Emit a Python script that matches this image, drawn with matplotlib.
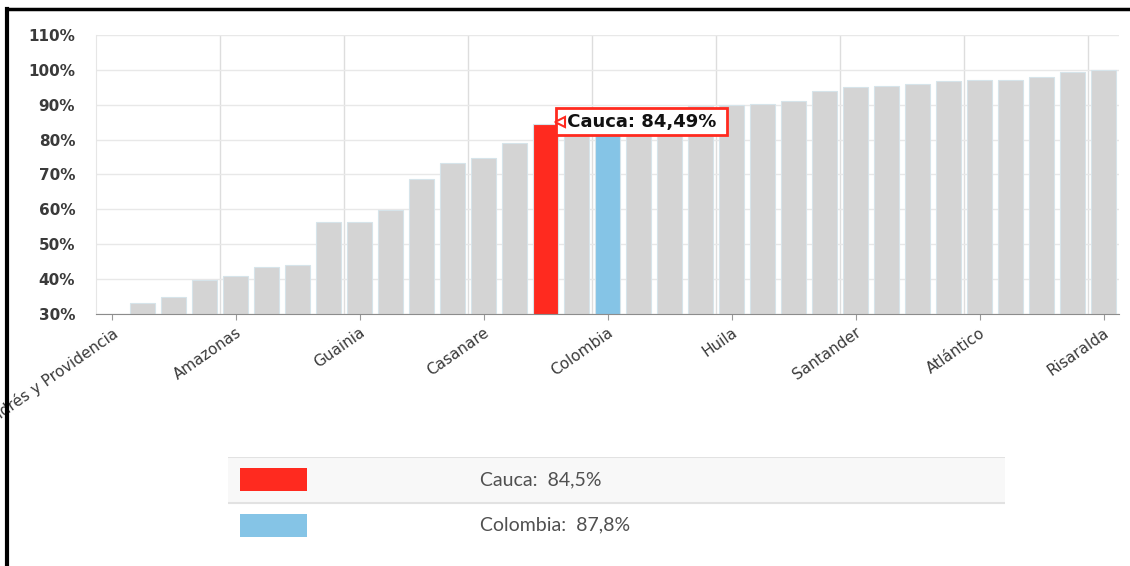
import numpy as np
import matplotlib.pyplot as plt
from matplotlib.patches import Rectangle
from matplotlib.lines import Line2D

# values per department (sorted)
values = [29.0, 33.2, 34.8, 39.7, 40.8, 43.4, 44.0, 56.5, 56.5, 59.8, 68.6,
          73.4, 74.7, 79.1, 84.49, 86.5, 87.8, 88.3, 89.2, 89.6, 89.8, 90.2,
          91.0, 93.8, 95.0, 95.3, 96.0, 96.9, 97.2, 97.2, 97.9, 99.4, 100.0]
tick_idx = [0, 4, 8, 12, 16, 20, 24, 28, 32]
tick_names = ["San Andrés y Providencia", "Amazonas", "Guainia", "Casanare",
              "Colombia", "Huila", "Santander", "Atlántico", "Risaralda"]
highlight_name = "Cauca"
highlight_idx = 14
country_name = "Colombia"
country_idx = 16
legend_names = ["Cauca", "Colombia"]
legend_values = [84.5, 87.8]
yticks = list(range(30, 111, 10))

RED = '#ff2a1f'
BLUE = '#85c4e6'
GRAY = '#d4d4d4'

W, H = 1130, 566
fig = plt.figure(figsize=(W / 100, H / 100), dpi=100)
ax = fig.add_axes([96 / W, 252 / H, 1023 / W, 279 / H])

colors = [GRAY] * len(values)
colors[highlight_idx] = RED
colors[country_idx] = BLUE
x = np.arange(len(values))
ax.bar(x, values, width=0.81, color=colors, edgecolor='#d6e4ea', linewidth=0.8, zorder=2)

ax.set_xlim(-0.5, len(values) - 0.5)
ax.set_ylim(30, 110)
ax.set_yticks(yticks)
ax.set_yticklabels([f"{v}%" for v in yticks], fontsize=11, fontweight='bold', color='#3a3a3a')
ax.tick_params(axis='y', length=0, pad=15)

ax.set_xticks(tick_idx)
ax.set_xticklabels(tick_names, rotation=35, ha='right', rotation_mode='anchor',
                   fontsize=11, color='#3a3a3a')
ax.set_xticks(np.arange(3.5, len(values) - 1, 4), minor=True)
ax.tick_params(axis='x', which='major', length=4, color='#999999', pad=4)
ax.tick_params(axis='x', which='minor', length=0)

ax.yaxis.grid(True, color='#e8e8e8', lw=1, zorder=0)
ax.xaxis.grid(True, which='minor', color='#dddddd', lw=1, zorder=0)
ax.set_axisbelow(True)
for s in ['top', 'right']:
    ax.spines[s].set_visible(False)
ax.spines['left'].set_color('#e6e6e6')
ax.spines['bottom'].set_color('#8c8c8c')

# tooltip
hv = values[highlight_idx]
label = f"{highlight_name}: {hv:.2f}%".replace('.', ',')
ax.text(highlight_idx + 0.5, hv + 0.6, " " + label + " ", ha='left', va='center',
        fontsize=13, fontweight='bold', color='#111111', zorder=6,
        bbox=dict(boxstyle='square,pad=0.25', facecolor='white', edgecolor=RED, lw=2))
ax.plot([highlight_idx + 0.47], [hv + 0.6], marker='<', markersize=7, markerfacecolor='white',
        markeredgecolor=RED, markeredgewidth=1.5, zorder=7, clip_on=False)

# legend table
lax = fig.add_axes([228 / W, 18 / H, 777 / W, 91 / H])
lax.set_xlim(0, 1)
lax.set_ylim(0, 1)
lax.axis('off')
lax.add_patch(Rectangle((0, 0.5), 1, 0.5, facecolor='#f8f8f8', edgecolor='none'))
lax.plot([0, 1], [1, 1], color='#e2e2e2', lw=1.5)
lax.plot([0, 1], [0.5, 0.5], color='#e2e2e2', lw=1.5)
for i, (nm, v, c) in enumerate(zip(legend_names, legend_values, [RED, BLUE])):
    yc = 0.75 - 0.5 * i
    lax.add_patch(Rectangle((0.0155, yc - 0.125), 0.086, 0.25, facecolor=c, edgecolor='none'))
    lax.text(0.324, yc, f"{nm}:  {v:.1f}%".replace('.', ','), ha='left', va='center',
             fontsize=14, family='Lato', fontweight='normal', color='#505050')

# screenshot border
fig.add_artist(Line2D([7 / W, 7 / W], [0, 1 - 9 / H], color='black', lw=3))
fig.add_artist(Line2D([7 / W, 1], [1 - 9 / H, 1 - 9 / H], color='black', lw=2.5))

fig.savefig('out.png', dpi=100, facecolor='white')
